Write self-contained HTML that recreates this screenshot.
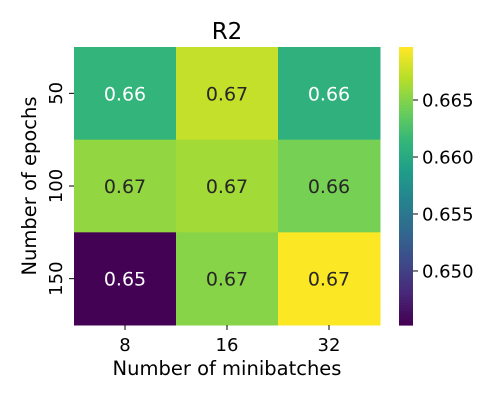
<!DOCTYPE html>
<html><head><meta charset="utf-8"><style>
body{margin:0;background:#fff;}
svg{display:block;font-family:"DejaVu Sans","Liberation Sans",sans-serif;}
</style></head><body>
<svg id="chart" width="500" height="400">
<text x="227" y="39" font-size="23" text-anchor="middle" fill="#000">R2</text>
<text x="227" y="375" font-size="19.5" text-anchor="middle" fill="#000">Number of minibatches</text>
<text transform="translate(36,186) rotate(-90)" font-size="19.5" text-anchor="middle" fill="#000">Number of epochs</text>
<g id="cells"></g>
<g id="cbar"></g>
</svg>
<script>
const xCats = ["8","16","32"];
const yCats = ["50","100","150"];
const values = [
  [0.6612, 0.6675, 0.6608],
  [0.6656, 0.6662, 0.6645],
  [0.6453, 0.6652, 0.6696]
];
const cbTicks = [0.650, 0.655, 0.660, 0.665];
const vmin = 0.64526, vmax = 0.66965;

const NS="http://www.w3.org/2000/svg";
const plot={x:74,y:47,w:306,h:278};
const cb={x:399,y:47,w:14,h:278};
const stops=[[68,1,84],[72,40,120],[62,74,137],[49,104,142],[38,130,142],[31,158,137],[53,183,121],[110,206,88],[181,222,43],[253,231,37]];
function viridis(t){t=Math.max(0,Math.min(1,t));const p=t*(stops.length-1);const i=Math.min(Math.floor(p),stops.length-2);const f=p-i;const a=stops[i],b=stops[i+1];
return [0,1,2].map(k=>Math.round(a[k]+(b[k]-a[k])*f));}
function relLum(c){const l=c.map(v=>{v/=255;return v<=0.03928?v/12.92:Math.pow((v+0.055)/1.055,2.4);});return 0.2126*l[0]+0.7152*l[1]+0.0722*l[2];}
function xScale(i){return plot.x+i*plot.w/xCats.length;}
function yScale(j){return plot.y+j*plot.h/yCats.length;}
function cbY(v){return cb.y+cb.h*(vmax-v)/(vmax-vmin);}
function mk(tag,attrs,parent){const e=document.createElementNS(NS,tag);for(const k in attrs)e.setAttribute(k,attrs[k]);parent.appendChild(e);return e;}
const svg=document.getElementById('chart');
const cells=document.getElementById('cells');
const cw=plot.w/xCats.length,ch=plot.h/yCats.length;
values.forEach((row,j)=>row.forEach((v,i)=>{
  const c=viridis((v-vmin)/(vmax-vmin));
  const r=mk('rect',{x:xScale(i),y:yScale(j),width:cw+0.5,height:ch+0.5,fill:`rgb(${c})`},cells);
  
  
  const t=mk('text',{x:xScale(i)+cw/2,y:yScale(j)+ch/2+7,'font-size':19,'text-anchor':'middle',fill:relLum(c)>0.408?'#262626':'#fff'},cells);
  t.textContent=v.toFixed(2);
  
  
}));
xCats.forEach((c,i)=>{
  const x=xScale(i)+cw/2;
  mk('line',{x1:x,x2:x,y1:plot.y+plot.h,y2:plot.y+plot.h+5,stroke:'#000'},svg);
  const t=mk('text',{x:x,y:plot.y+plot.h+26,'font-size':18,'text-anchor':'middle'},svg);
  t.textContent=c;
  
  
});
yCats.forEach((c,j)=>{
  const y=yScale(j)+ch/2;
  mk('line',{x1:plot.x-5,x2:plot.x,y1:y,y2:y,stroke:'#000'},svg);
  const t=mk('text',{transform:`translate(${plot.x-12},${y}) rotate(-90)`,'font-size':18,'text-anchor':'middle'},svg);
  t.textContent=c;
  
  
});
const cbg=document.getElementById('cbar');
const N=100;
for(let k=0;k<N;k++){
  const c=viridis(1-k/(N-1));
  mk('rect',{x:cb.x,y:cb.y+k*cb.h/N,width:cb.w,height:cb.h/N+0.6,fill:`rgb(${c})`},cbg);
}


cbTicks.forEach(v=>{
  const y=cbY(v);
  mk('line',{x1:cb.x+cb.w,x2:cb.x+cb.w+5,y1:y,y2:y,stroke:'#000'},svg);
  const t=mk('text',{x:cb.x+cb.w+9,y:y+6.5,'font-size':18},svg);
  t.textContent=v.toFixed(3);
  
  
});
</script>
</body></html>
